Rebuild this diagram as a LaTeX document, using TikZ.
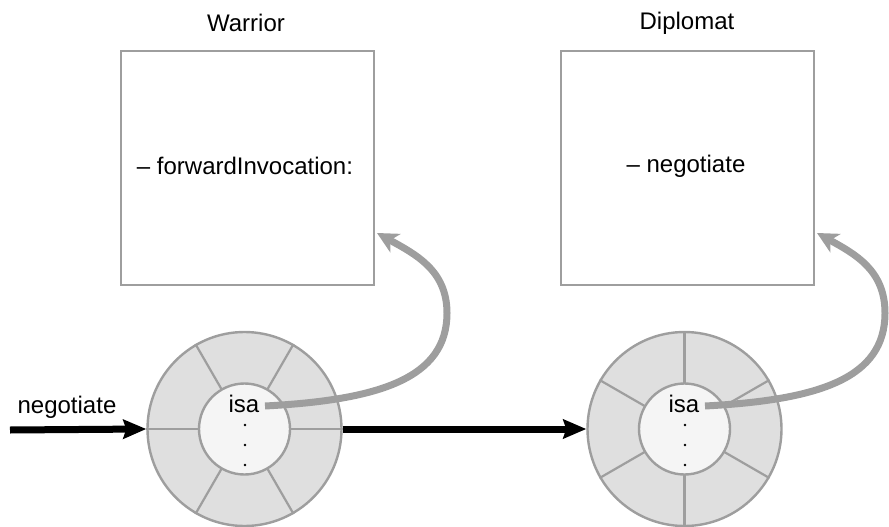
\documentclass[tikz,border=0pt]{standalone}
\usepackage{fontspec}
\setmainfont{Liberation Sans}
\usetikzlibrary{arrows.meta}
\definecolor{linegray}{HTML}{9E9E9E}
\definecolor{outerfill}{HTML}{DFDFDF}
\definecolor{innerfill}{HTML}{F5F5F5}
\begin{document}
\begin{tikzpicture}[x=1pt,y=-1pt,
  every node/.style={font=\fontsize{24}{28}\selectfont, text=black},
  classbox/.style={draw=linegray, line width=2.4pt, minimum width=253pt, minimum height=234pt, inner sep=0pt},
  outerring/.style={circle, draw=linegray, line width=2.4pt, fill=outerfill, minimum size=194pt, inner sep=0pt},
  innerring/.style={circle, draw=linegray, line width=2.4pt, fill=innerfill, minimum size=91pt, inner sep=0pt},
  spoke/.style={draw=linegray, line width=2.2pt},
  isaarrow/.style={draw=linegray, line width=7pt, -{Stealth[length=21pt,width=21pt,inset=6pt]}},
  msgarrow/.style={draw=black, line width=7pt, -{Stealth[length=23pt,width=19pt,inset=3pt]}},
  dotmark/.style={circle, fill=black, inner sep=0pt, minimum size=2.8pt}
]
\useasboundingbox (0,0) rectangle (889,527);

% class boxes
\node[classbox] (warrior) at (247.5,168) {};
\node[classbox] (diplomat) at (687.5,168) {};
\node (warriorlbl) at (246,23) {Warrior};
\node (diplomatlbl) at (687,23) {Diplomat};
\node (fwd) at (245,166) {– forwardInvocation:};
\node (neg) at (686,166) {– negotiate};

% left object
\node[outerring] (obj1) at (244.5,429) {};
\foreach \a in {0,60,...,300} \draw[spoke] (obj1.center) -- (obj1.\a);
\node[innerring] (in1) at (244.5,429) {};
\node (isa1) at (244,404) {isa};
\node[dotmark] (d11) at (245,425) {};
\node[dotmark] (d12) at (245,445) {};
\node[dotmark] (d13) at (245,465) {};

% right object
\node[outerring] (obj2) at (684.5,429) {};
\foreach \a in {30,90,...,330} \draw[spoke] (obj2.center) -- (obj2.\a);
\node[innerring] (in2) at (684.5,429) {};
\node (isa2) at (684,404) {isa};
\node[dotmark] (d21) at (685,425) {};
\node[dotmark] (d22) at (685,445) {};
\node[dotmark] (d23) at (685,465) {};

% isa pointers
\coordinate (isa1end) at (265,406);
\coordinate (tip1) at (377,233);
\coordinate (isa2end) at (705,406);
\coordinate (tip2) at (817,233);
\draw[isaarrow] (isa1end) .. controls (380,400) and (447,378) .. (447,313)
   .. controls (447,270) and (415,254) .. (tip1);
\draw[isaarrow] (isa2end) .. controls (820,400) and (885,378) .. (885,313)
   .. controls (885,270) and (855,254) .. (tip2);

% message arrows
\coordinate (msgstart) at (10,430);
\node (msglbl) at (67,407) {negotiate};
\draw[msgarrow] (msgstart) -- (obj1.west);
\draw[msgarrow] (obj1.east) -- (obj2.west);
\end{tikzpicture}
\end{document}
